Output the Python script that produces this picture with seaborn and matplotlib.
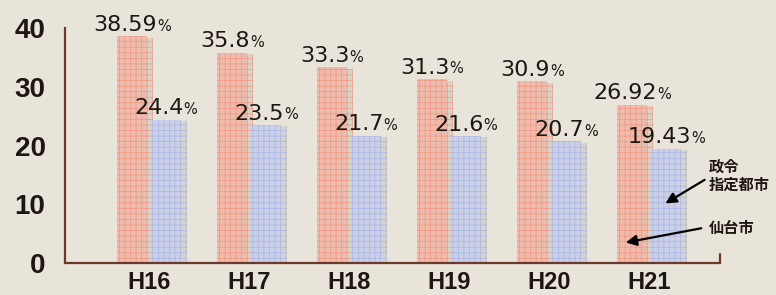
import matplotlib
matplotlib.use("Agg")
import matplotlib.pyplot as plt
import matplotlib.patheffects as pe
import seaborn as sns
import pandas as pd

# data
years = ["H16", "H17", "H18", "H19", "H20", "H21"]
sendai = [38.59, 35.8, 33.3, 31.3, 30.9, 26.92]      # 仙台市
seirei = [24.4, 23.5, 21.7, 21.6, 20.7, 19.43]      # 政令指定都市
sendai_labels = ["38.59", "35.8", "33.3", "31.3", "30.9", "26.92"]
seirei_labels = ["24.4", "23.5", "21.7", "21.6", "20.7", "19.43"]
yticks = [0, 10, 20, 30, 40]

df = pd.DataFrame({
    "year": years * 2,
    "value": sendai + seirei,
    "group": ["仙台市"] * len(years) + ["政令指定都市"] * len(years),
})

bg = "#e8e4da"
dark = "#1e1612"
axis_col = "#6b3a2a"

sns.set_theme(style="white")
plt.rcParams["font.family"] = ["Liberation Sans", "DejaVu Sans"]
plt.rcParams["hatch.linewidth"] = 0.5

fig = plt.figure(figsize=(7.76, 2.95), dpi=100, facecolor=bg)
ax = fig.add_axes([65 / 776, 1 - 263 / 295, (720 - 65) / 776, (263 - 28) / 295])
ax.set_facecolor(bg)

sns.barplot(data=df, x="year", y="value", hue="group",
            palette=["#f8b6a3", "#c6cdee"], width=0.68, gap=0.1,
            legend=False, ax=ax)

hatch_cols = ["#f19780", "#aab5e3"]
shadow = [pe.SimplePatchShadow(offset=(4, -1), shadow_rgbFace="#a09c94", alpha=0.22),
          pe.Normal()]
for cont, hc, labs in zip(ax.containers, hatch_cols, [sendai_labels, seirei_labels]):
    for bar, lab in zip(cont, labs):
        bar.set_hatch("+++")
        bar.set_edgecolor(hc)
        bar.set_linewidth(0)
        bar.set_path_effects(shadow)
        cx = bar.get_x() + bar.get_width() / 2
        top = bar.get_height()
        t = ax.annotate(lab, xy=(cx, top), xytext=(-5, 1), textcoords="offset points",
                        ha="center", va="bottom", fontsize=16, color=dark,
                        family="DejaVu Sans", annotation_clip=False)
        ax.annotate("%", xy=(1, 0), xycoords=t, xytext=(0, 1), textcoords="offset points",
                    ha="left", va="bottom", fontsize=10.5, color=dark,
                    family="DejaVu Sans")

ax.set_xlim(-0.84, 5.71)
ax.set_ylim(0, 40)
ax.set_yticks(yticks)
ax.set_xlabel("")
ax.set_ylabel("")

for s in ["top", "right"]:
    ax.spines[s].set_visible(False)
for s in ["left", "bottom"]:
    ax.spines[s].set_color(axis_col)
    ax.spines[s].set_linewidth(1.6)

ax.tick_params(axis="y", direction="in", length=11, width=1.6, color=axis_col,
               pad=14, labelsize=20, labelcolor=dark)
ax.tick_params(axis="x", length=0, pad=6, labelsize=17, labelcolor=dark)
for lab in ax.get_yticklabels() + ax.get_xticklabels():
    lab.set_fontweight("bold")
ax.axvline(5.71, ymin=0, ymax=0.04, color=axis_col, lw=1.6, clip_on=False)

# arrows and labels on the right
cjk = ["Noto Sans CJK JP", "DejaVu Sans"]
ax.text(5.60, 14.8, "政令\n指定都市", family=cjk, fontsize=11, fontweight="bold",
        color=dark, ha="left", va="center", linespacing=1.15)
ax.annotate("", xy=(5.14, 9.9), xytext=(5.58, 14.4),
            arrowprops=dict(arrowstyle="-|>", color="black", lw=1.6, mutation_scale=16))
ax.text(5.60, 6.0, "仙台市", family=cjk, fontsize=11, fontweight="bold",
        color=dark, ha="left", va="center")
ax.annotate("", xy=(4.74, 3.4), xytext=(5.55, 6.0),
            arrowprops=dict(arrowstyle="-|>", color="black", lw=1.6, mutation_scale=16))

fig.savefig("out.png", dpi=100, facecolor=bg)
